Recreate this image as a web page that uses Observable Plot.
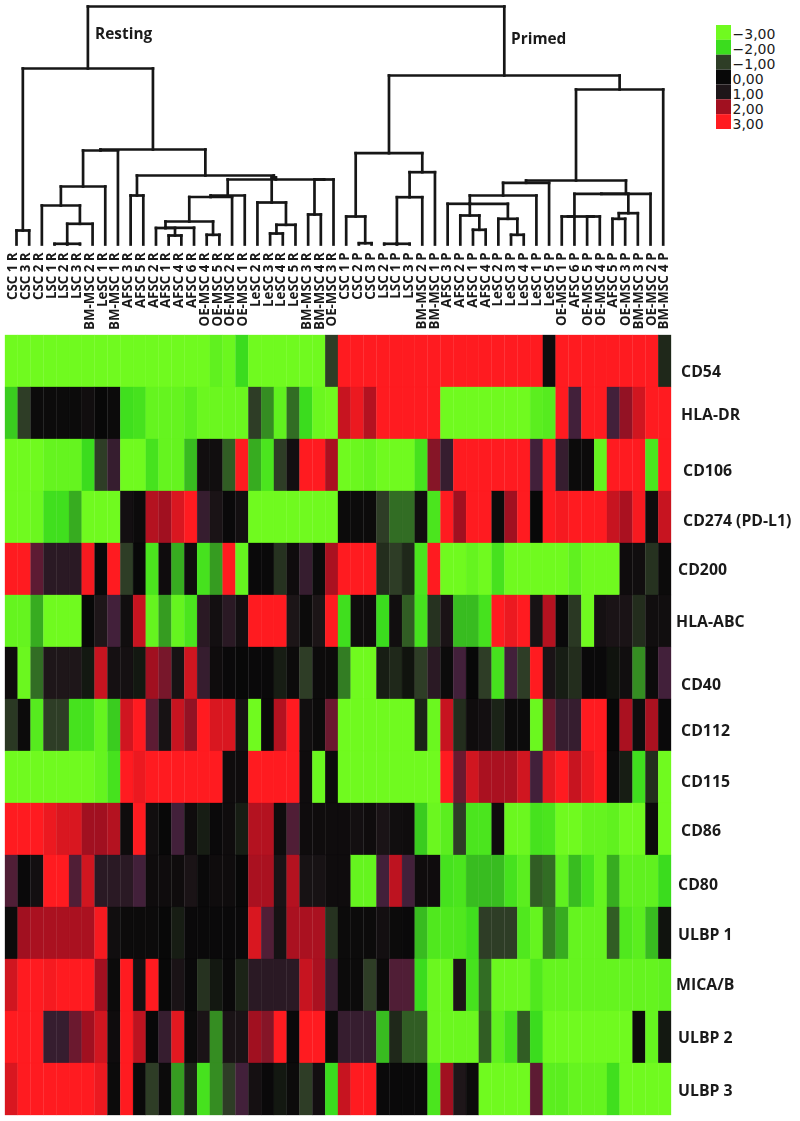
<!DOCTYPE html>
<html>
<head>
<meta charset="utf-8">
<script src="https://cdn.jsdelivr.net/npm/d3@7"></script>
<script src="https://cdn.jsdelivr.net/npm/@observablehq/plot@0.6"></script>
<style>
html,body{margin:0;padding:0;background:#fff;}
#page{position:relative;width:800px;height:1121px;overflow:hidden;}
#page svg{display:block;background:transparent;}
#top svg,#heat svg{filter:blur(0.45px);}
#legend{position:absolute;left:716px;top:25px;}
</style>
</head>
<body>
<div id="page"><div id="top"></div><div id="heat"></div><div id="legend"></div></div>
<script>
const columns = [
"CSC 1 R","CSC 3 R","CSC 2 R","LSC 1 R","LSC 2 R","LSC 3 R","BM-MSC 2 R","LeSC 1 R","BM-MSC 1 R","AFSC 3 R","AFSC 5 R","AFSC 2 R","AFSC 1 R","AFSC 4 R","AFSC 6 R","OE-MSC 4 R","OE-MSC 5 R","OE-MSC 2 R","OE-MSC 1 R","LeSC 2 R","LeSC 3 R","LeSC 4 R","LeSC 5 R","BM-MSC 3 R","BM-MSC 4 R","OE-MSC 3 R",
"CSC 1 P","CSC 2 P","CSC 3 P","LSC 2 P","LSC 1 P","LSC 3 P","BM-MSC 2 P","BM-MSC 1 P","AFSC 3 P","AFSC 2 P","AFSC 1 P","AFSC 4 P","LeSC 2 P","LeSC 3 P","LeSC 4 P","LeSC 1 P","LeSC 5 P","OE-MSC 1 P","AFSC 6 P","OE-MSC 5 P","OE-MSC 4 P","AFSC 5 P","OE-MSC 3 P","BM-MSC 3 P","OE-MSC 2 P","BM-MSC 4 P"];
const rows = ["CD54","HLA-DR","CD106","CD274 (PD-L1)","CD200","HLA-ABC","CD40","CD112","CD115","CD86","CD80","ULBP 1","MICA/B","ULBP 2","ULBP 3"];
// hand placement of the row labels relative to their rows, as in the reference
const rowDx = [16,16,18,18,13,11,16,16,16,16,13,13,11,13,13];
const rowDy = [10,1,5,3,0,0,11,5,4,1,3,1,-1,0,1];

const cd54 = [-3,-3,-3,-3,-3,-3,-3,-3,-3,-3,-3,-3,-3,-3,-3,-3,-2.7,-2.9,-2,-3,-3,-3,-3,-3,-3,-1,
3,3,3,3,3,3,3,3,3,3,3,3,3,3,3,3,.3,3,3,3,3,3,3,3,3,-.6];
const hlaDr = [-1.9,-1,.2,.2,.2,.2,.4,0,.2,-2.1,-2.2,-2.8,-2.8,-2.8,-2.6,-2.9,-2.9,-2.9,-2.9,-1,-1.5,-2.7,-1.3,-2,-2.9,-3,
2.4,2.8,2.2,3,3,3,3,3,-3,-3,-3,-3,-3,-3,-3,-2.6,-2.5,3,1.3,3,3,1.3,1.9,2.5,3,3];
const cd106 = [-3,-3,-3,-2.8,-2.8,-2.8,-2,-1,1.2,-3,-3,-2.2,-2.8,-2.8,-1.8,.4,.4,-1.2,3,-1.7,-2.3,-1,.5,3,3,2.1,
-3,-2.9,-2.8,-3,-3,-3,-2.2,1.8,1.2,3,3,3,3,3,3,1.3,3,1.2,.2,.2,-2.8,3,3,3,-2.3,3];
const cd274 = [-3,-3,-2.9,-2.1,-2.1,-1.7,-3,-3,-3,.5,.2,2.2,2,2.6,3,1.2,.8,.1,.5,-3,-3,-3,-3,-3,-3,-3,
.2,.2,.2,-1,-1.3,-1.3,.4,-2.3,3,2,3,3,.2,2,3,0,3,2.9,3,3,3,2.4,2.1,2.9,.3,2.4];
const cd200 = [3,3,1.5,1.1,1.1,1.1,2.9,.1,3,-1,0,-2.3,.3,-1.7,.3,-2.2,-1.6,3,-2.8,.1,.1,-.8,.3,1.2,.2,2.1,
3,3,3,-.7,-1,-.6,-2.3,3,-3,-3,-2.8,-3,-2.2,-3,-3,-3,-3,-3,-2.7,-3,-3,-3,.3,.4,-.8,.2];
const hlaAbc = [-2.8,-2.8,-1.7,-3,-3,-3,0,1,1.3,.4,2.4,-2.8,-1.6,-2.8,-2.3,1.1,.5,1.1,.5,3,3,3,.9,.2,.9,3,
-2.1,.3,.3,-2,.4,-1.2,-2.2,-.8,.8,-1.8,-1.8,-2.2,3,2.8,3,.7,2.2,.1,-.9,-3,.6,.8,.8,-.7,.4,.4];
const cd40 = [.3,-2.9,-1.3,1,1,1,-.3,2.4,.6,.6,-.3,2,1.7,.7,2.5,1.2,.3,.1,0,.1,.1,-.4,.2,-1,.2,.2,
-1.4,-3,-3,-.4,-.6,-.2,-1,1.1,.2,1.3,0,-1,-2.2,1.3,-1,3,.8,-.4,-.7,.1,.1,-.2,.4,-1.5,.2,1.3];
const cd112 = [-.9,.2,-2.5,-1,-1,-2.2,-2.2,-2.8,-1.9,2.5,3,1.5,.7,2.4,1.9,3,2.6,2.6,.7,-3,.1,2.2,3,.4,.2,1.6,
-3,-3,-3,-3,-3,-3,-.5,-2.9,2.4,-.7,.3,.5,-.5,.2,.2,-2.9,1.6,1.2,1.2,3,3,0,2.1,.3,2.1,.1];
const cd115 = [-3,-3,-3,-3,-3,-3,-3,-2.8,-2.2,3,2.8,3,3,3,3,3,3,.3,.3,3,3,3,3,.3,-2.9,.2,
-3,-3,-3,-3,-3,-3,-3,-3,3,1.6,2.5,2.1,2.1,2.1,2.5,1.3,2.7,3,2.4,2.8,3,.2,-.4,-2.1,-.7,-3];
const cd86 = [3,3,3,2.8,2.6,2.6,2,2,2.2,.3,3,.4,0,1.3,.3,-.4,.1,.3,-.4,2.2,2.2,.3,1.4,.3,.3,.3,
.3,.5,.3,.8,.4,.3,-1.9,-2.9,-2.6,-1,-2.3,-2.3,.3,-2.9,-2.9,-2.2,-2.3,-3,-3,-2.8,-2.8,-2.7,-3,-3,.2,-3];
const cd80 = [1.4,.1,.5,3,3,1.4,2.5,1.1,1.1,1.1,1.3,.3,.3,.3,.8,.1,.3,.3,0,2.1,2.1,.8,2.2,.7,.7,.3,
.3,-2.8,-2.8,1.3,2.3,1.3,.3,.3,-2.2,-2.3,-1.8,-1.8,-1.8,-2.2,-2.6,-1.2,-1.3,-2.7,-1.8,-2.2,-2.8,-1.7,-2.7,-2.7,-2.7,-2];
const ulbp1 = [.2,2,2.1,2.1,2.1,2.1,2.1,2.9,.4,.2,.2,.2,0,-.4,.1,.1,.1,.1,.1,2.6,1.4,.7,2.1,2.1,2.1,-.8,
.2,.2,.2,.5,.2,.1,-1.8,-2.4,-2.4,-2.4,-2.1,-1,-1,-1,-2.4,-2.8,-1.4,-1.7,-2.8,-2.8,-2.8,-1.2,-2.4,-2.6,-1.8,-.2];
const micaB = [2.5,3,3,2.9,3,3,3,2,.2,3,.6,3,0,.8,.1,-.8,-.3,.1,-.5,1.1,1.1,1.1,1.1,2.4,2.1,1.2,
.2,.2,-1,.2,1.4,1.4,-2,-2.9,-2.9,.9,-2.2,-1.3,-2.9,-2.9,-2.9,-2.4,-2.8,-2.8,-2.8,-2.8,-2.8,-2.8,-2.8,-2.8,-2.8,-2.7];
const ulbp2 = [3,3,3,1.2,1.2,1.6,2,2.5,.3,3,2.3,0,1.2,2.7,.2,.8,-1.5,.8,.8,2,1.8,3,.1,3,3,.2,
1.2,1.2,1.2,-1.8,-.6,-1.2,-1.2,-2.9,-2.9,-2.9,-2.9,-1.2,-2.7,-2.2,-1.2,-2,-3,-3,-3,-3,-3,-3,-3,.2,-2.8,-.3];
const ulbp3 = [2.6,3,3,3,3,3,3,2.8,.2,3,.1,-1,.2,-1.6,-.5,-2.2,-1.5,-1,1.3,.6,.1,-.3,.2,-1,.5,-2,
2.4,3,3,.1,.1,.1,.1,-2.3,2,1,.2,-3,-3,-3,-3,1.5,-2.6,-2.6,-2.8,-2.8,-2.8,-2.1,-3,-3,-3,-3];
const values = [cd54,hlaDr,cd106,cd274,cd200,hlaAbc,cd40,cd112,cd115,cd86,cd80,ulbp1,micaB,ulbp2,ulbp3];

const colorStops = [-3,-2,-1,0,1,1.3,2,3];
const colorRange = ["#70fa1f","#3bdc1e","#2e3d26","#080808","#1e1619","#42203a","#a11020","#ff1b20"];
const legendValues = [-3,-2,-1,0,1,2,3];
const legendLabels = ["\u22123,00","\u22122,00","\u22121,00","0,00","1,00","2,00","3,00"];

// dendrogram: ids 0-51 are leaves, 52+ are merges in list order; heights
const mergeLeft  = [0,3,53,54,2,56,57,9,12,11,61,15,62,64,65,23,67,66,20,70,19,69,59,58,52,
27,26,29,79,80,81,78,36,35,39,38,85,34,89,90,43,45,92,47,95,94,97,91,99,83,76];
const mergeRight = [1,5,4,6,55,7,8,10,13,60,14,16,63,17,18,24,25,68,21,22,71,72,73,74,75,
28,77,31,30,32,33,82,37,84,40,86,87,88,41,42,44,46,93,48,49,96,50,98,51,100,101];
const mergeHeight = [14,.7,.7,20.7,39,58,94,49,9,16.5,16.7,9.7,23,47.5,49,30,65,65,11,19.7,42,67,69,95,176,
1.3,28,.7,.7,47.3,72.3,91.3,14.7,29,9.7,25.7,40.7,40.7,49,61.7,28,28,28,25.7,31.3,50.7,50.7,64,155,169,238];
// merges whose stem rises from a child rather than from the midpoint
const riseFrom = new Map([[62,61],[88,85],[89,88],[94,44]]);
const groupLabels = [{name:"Resting",at:6.2,h:210},{name:"Primed",at:39,h:205}];

// layout
const leafCount = columns.length;
const pos = d3.range(leafCount), nodeHeight = new Array(leafCount).fill(0);
const links = [];
mergeLeft.forEach((a,i)=>{
  const b = mergeRight[i], h = mergeHeight[i], id = leafCount + i;
  links.push({x1:pos[a],y1:nodeHeight[a],x2:pos[a],y2:h});
  links.push({x1:pos[b],y1:nodeHeight[b],x2:pos[b],y2:h});
  links.push({x1:pos[a],y1:h,x2:pos[b],y2:h});
  pos[id] = riseFrom.has(id) ? pos[riseFrom.get(id)] : (pos[a]+pos[b])/2;
  nodeHeight[id] = h;
});
const labelStep = 1.007, labelShift = -0.276;
const cells = rows.flatMap((r,i)=>columns.map((c,j)=>({row:r,col:j,v:values[i][j]})));
const colorScale = {type:"linear",domain:colorStops,range:colorRange,interpolate:"rgb"};
const sans = "'Open Sans','Noto Sans',sans-serif";

const topPlot = Plot.plot({
  width:800,height:335,margin:0,
  style:{background:"transparent",overflow:"visible"},
  x:{domain:[0,51],range:[16,662.7],axis:null},
  y:{domain:[-91,244],range:[335,0],axis:null},
  marks:[
    Plot.link(links,{x1:"x1",y1:"y1",x2:"x2",y2:"y2",stroke:"#161616",strokeWidth:2.7,strokeLinecap:"square",curve:"linear"}),
    Plot.text(columns,{x:(d,i)=>i*labelStep+labelShift,y:-8,text:d=>d,rotate:-90,textAnchor:"end",fontFamily:sans,fontWeight:700,fontSize:13.3,fill:"#1a1a1a"}),
    Plot.text(groupLabels,{x:"at",y:"h",text:"name",textAnchor:"start",fontFamily:sans,fontWeight:700,fontSize:15.4,fill:"#1a1a1a"})
  ]
});
document.getElementById("top").append(topPlot);

const heatPlot = Plot.plot({
  width:800,height:786,
  marginTop:0,marginBottom:6,marginLeft:5,marginRight:129,
  style:{background:"transparent",overflow:"visible"},
  x:{type:"band",domain:d3.range(leafCount),padding:0,round:false,axis:null},
  y:{type:"band",domain:rows,padding:0,round:false,axis:null},
  color:colorScale,
  marks:[
    Plot.cell(cells,{x:"col",y:"row",fill:"v",stroke:"v",strokeWidth:0.3}),
    ...rows.map((r,i)=>Plot.text([r],{x:()=>leafCount-1,y:d=>d,text:d=>d,dx:rowDx[i],dy:rowDy[i],textAnchor:"start",fontFamily:sans,fontWeight:700,fontSize:15.8,fill:"#1a1a1a"}))
  ]
});
document.getElementById("heat").append(heatPlot);

const legendData = legendValues.map((v,i)=>({v,label:legendLabels[i]}));
const legendPlot = Plot.plot({
  width:84,height:104,margin:0,marginRight:69,
  style:{background:"transparent",overflow:"visible"},
  x:{type:"band",domain:[0],padding:0,round:false,axis:null},
  y:{type:"band",domain:legendValues,padding:0,round:false,axis:null},
  color:colorScale,
  marks:[
    Plot.cell(legendData,{x:()=>0,y:"v",fill:"v"}),
    Plot.text(legendData,{x:()=>0,y:"v",text:"label",dx:8.5,dy:2,textAnchor:"start",fontFamily:"'DejaVu Sans',sans-serif",fontSize:14,fill:"#1a1a1a"})
  ]
});
document.getElementById("legend").append(legendPlot);
</script>
</body>
</html>
